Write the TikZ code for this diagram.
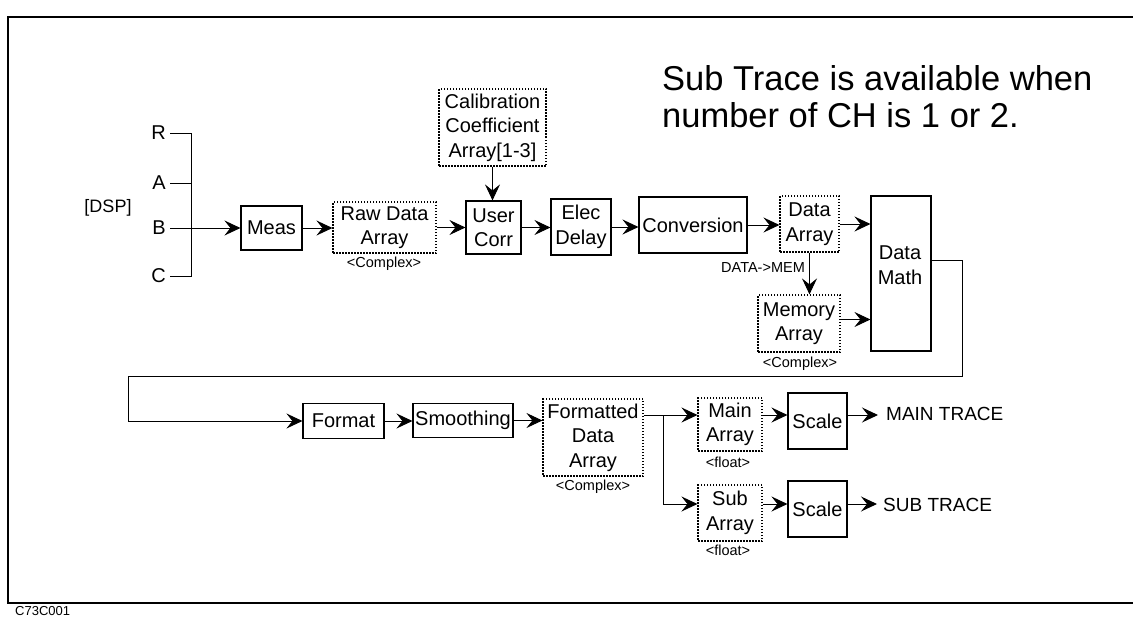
\documentclass[tikz,border=0pt]{standalone}
\usepackage{fontspec}
\setmainfont{Liberation Sans}
\usetikzlibrary{arrows.meta,calc}
\newcommand\fsz[2]{\fontsize{#1}{#2}\selectfont}
\begin{document}
\begin{tikzpicture}[x=1pt,y=-1pt,
  box/.style={draw, line width=1.1pt, inner sep=0pt, align=center, font=\fsz{20}{24.5}},
  dotbox/.style={box, dash pattern=on 1.5pt off 1.5pt},
  arr/.style={line width=1pt, -{Stealth[length=16pt,width=15pt,inset=6pt]}},
  ln/.style={line width=1pt},
  small/.style={inner sep=0pt, font=\fsz{14.5}{16}},
  lbl/.style={inner sep=0pt, font=\fsz{20}{24}},
  title/.style={inner sep=0pt, font=\fsz{34.5}{38}},
  frame/.style={line width=1.2pt}]
\useasboundingbox (0,0) rectangle (1133,618);
% frame
\draw[frame] (1133,17) -- (8,17) -- (8,603) -- (1133,603);
\node[inner sep=0pt, font=\fsz{13}{14}, anchor=west] (code) at (15,611) {C73C001};
% title
\node[title, anchor=base west] (t1) at (662,90) {Sub Trace is available when};
\node[title, anchor=base west] (t2) at (662,127) {number of CH is 1 or 2.};
% inputs
\node[lbl, anchor=east] (R) at (166,133) {R};
\node[lbl, anchor=east] (A) at (166,183) {A};
\node[lbl, anchor=east] (B) at (166,228) {B};
\node[lbl, anchor=east] (C) at (166,276) {C};
\node[lbl, font=\fsz{18}{20}] (dsp) at (108,208) {[DSP]};
\coordinate (vR) at (191,133);
\coordinate (vC) at (191,276);
\draw[ln] ([xshift=4pt]R.east) -- (vR) -- (vC) -- ([xshift=4pt]C.east);
\draw[ln] ([xshift=4pt]A.east) -- (A.east -| vR);
% row 1
\node[box, minimum width=61pt, minimum height=44pt] (meas) at (271.5,228) {Meas};
\node[dotbox, minimum width=103pt, minimum height=51pt] (raw) at (384.5,227.5) {Raw Data\\Array};
\node[small] (rawc) at (384,264) {<Complex>};
\node[dotbox, minimum width=107pt, minimum height=77pt] (cal) at (492.5,127.5) {Calibration\\Coefficient\\Array[1-3]};
\node[box, minimum width=55pt, minimum height=53pt] (user) at (493.5,227.5) {User\\Corr};
\node[box, minimum width=60pt, minimum height=56pt] (elec) at (581,227) {Elec\\Delay};
\node[box, minimum width=108pt, minimum height=56pt] (conv) at (693,225) {Conversion};
\node[dotbox, minimum width=59pt, minimum height=56pt] (darr) at (809.5,224) {Data\\Array};
\node[small] (d2m) at (763,268) {DATA->MEM};
\node[dotbox, minimum width=82pt, minimum height=57pt] (mem) at (799,323.5) {Memory\\Array};
\node[small] (memc) at (800,364) {<Complex>};
\node[box, minimum width=60pt, minimum height=155pt] (dmath) at (901,273.5) {};
\node[lbl, align=center, font=\fsz{20}{24.5}] (dmtext) at (900,265) {Data\\Math};
% row 1 arrows
\draw[arr] ([xshift=4pt]B.east) -- (meas.west);
\draw[arr] (meas.east) -- (raw.west |- meas.east);
\draw[arr] (raw.east) -- (user.west |- raw.east);
\draw[arr] (cal.south) -- (cal.south |- user.north);
\draw[arr] (user.east) -- (elec.west |- user.east);
\draw[arr] (elec.east) -- (conv.west |- elec.east);
\draw[arr] (conv.east) -- (darr.west |- conv.east);
\draw[arr] (darr.south) -- (darr.south |- mem.north);
\draw[arr] (darr.east) -- (dmath.west |- darr.east);
\coordinate (memout) at ([yshift=4pt]mem.east);
\draw[arr] (memout) -- (dmath.west |- memout);
% row 2
\node[box, minimum width=81pt, minimum height=35pt] (format) at (343.5,421) {Format};
\node[box, minimum width=100pt, minimum height=34pt] (smooth) at (463,420.5) {Smoothing};
\node[dotbox, minimum width=100pt, minimum height=77pt] (fda) at (593,437.5) {Formatted\\Data\\Array};
\node[small] (fdac) at (593,487) {<Complex>};
% loop
\coordinate (l1) at (962,260);
\coordinate (l2) at (962,376);
\coordinate (l3) at (128,376);
\draw[arr] (dmath.east |- l1) -- (l1) -- (l2) -- (l3) -- (l3 |- format.west) -- (format.west);
\draw[arr] (format.east) -- (smooth.west |- format.east);
\draw[arr] (smooth.east) -- (fda.west |- smooth.east);
% branch
\node[dotbox, minimum width=64pt, minimum height=53pt] (mainarr) at (730,424.5) {Main\\Array};
\node[small] (mainf) at (728,462) {<float>};
\node[dotbox, minimum width=64pt, minimum height=56pt] (subarr) at (730,513) {Sub\\Array};
\node[small] (subf) at (728,550) {<float>};
\node[box, minimum width=59pt, minimum height=56pt] (scalem) at (817.5,421) {Scale};
\node[box, minimum width=59pt, minimum height=56pt] (scales) at (817.5,509) {Scale};
\node[lbl, font=\fsz{19}{22}, anchor=west] (maintr) at (886,414) {MAIN TRACE};
\node[lbl, font=\fsz{19}{22}, anchor=west] (subtr) at (883,505) {SUB TRACE};
\coordinate (br1) at (663,415);
\coordinate (br2) at (663,504);
\draw[ln] (fda.east |- br1) -- (br1);
\draw[arr] (br1) -- (mainarr.west |- br1);
\draw[arr] (br1) -- (br2) -- (subarr.west |- br2);
\draw[arr] (mainarr.east |- br1) -- (scalem.west |- br1);
\draw[arr] (subarr.east |- br2) -- (scales.west |- br2);
\draw[arr] (scalem.east |- br1) -- ([xshift=-8pt]maintr.west |- br1);
\draw[arr] (scales.east |- br2) -- ([xshift=-6pt]subtr.west |- br2);
\end{tikzpicture}
\end{document}
